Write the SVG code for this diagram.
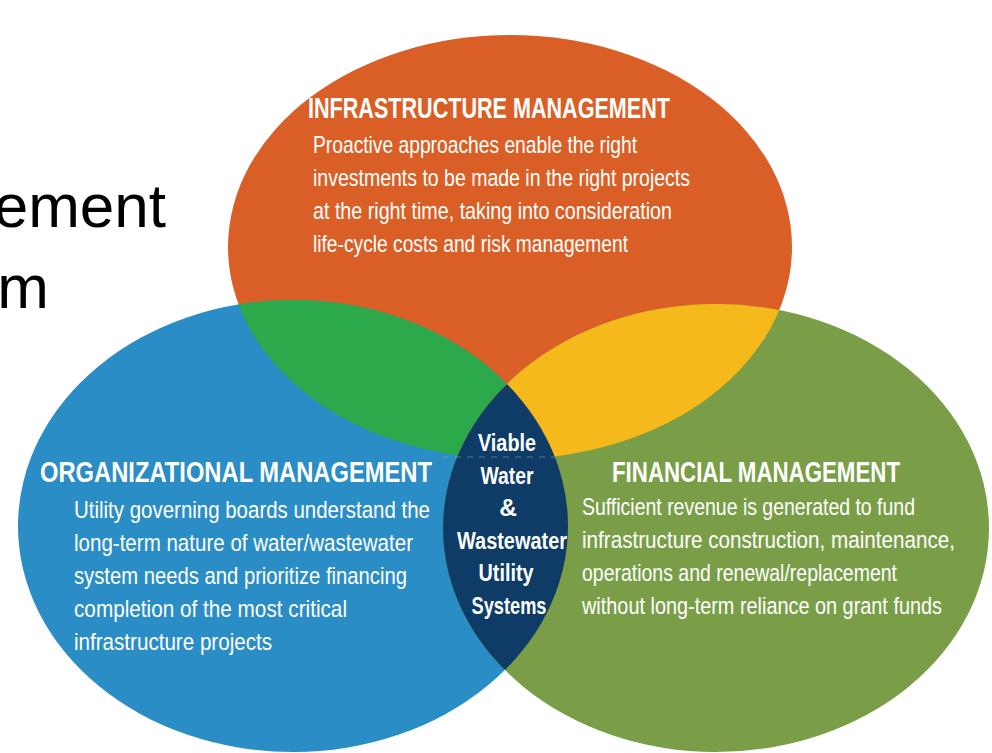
<svg xmlns="http://www.w3.org/2000/svg" width="992" height="753" viewBox="0 0 992 753">
<style>
.big{font-family:"Liberation Sans",Arial,sans-serif;font-size:62px;fill:#000}
.title{font-family:"Liberation Sans",Arial,sans-serif;font-size:29px;font-weight:bold;fill:#fff}
.body{font-family:"Liberation Sans",Arial,sans-serif;font-size:24.5px;fill:#fff}
.ctr{font-family:"Liberation Sans",Arial,sans-serif;font-size:24.5px;font-weight:bold;fill:#fff;text-anchor:middle}
</style>
<defs>
<clipPath id="clipBlue"><ellipse cx="293" cy="526" rx="275" ry="226"/></clipPath>
<clipPath id="clipGreen"><ellipse cx="716" cy="528" rx="273" ry="224"/></clipPath>
</defs>
<rect width="992" height="753" fill="#fff"/>
<g id="slide-text">
<text class="big" x="166" y="227" text-anchor="end">ement</text>
<text class="big" x="49" y="308" text-anchor="end">m</text>
</g>
<g id="infrastructure">
<ellipse cx="510" cy="247" rx="282" ry="212" fill="#DA5F26"/>
</g>
<g id="organizational">
<ellipse cx="293" cy="526" rx="275" ry="226" fill="#2A8DC5"/>
</g>
<g id="financial">
<ellipse cx="716" cy="528" rx="273" ry="224" fill="#7A9E48"/>
</g>
<g id="overlaps">
<ellipse cx="510" cy="247" rx="282" ry="212" fill="#2CA94A" clip-path="url(#clipBlue)"/>
<ellipse cx="510" cy="247" rx="282" ry="212" fill="#F6B91B" clip-path="url(#clipGreen)"/>
<ellipse cx="293" cy="526" rx="275" ry="226" fill="#0E3C66" clip-path="url(#clipGreen)"/>
<line x1="443" y1="457" x2="556" y2="457" stroke="#8aa0b8" stroke-width="1" stroke-dasharray="6 6" opacity="0.6"/>
</g>
<g id="infrastructure-text">
<text class="title" x="308" y="118" textLength="362" lengthAdjust="spacingAndGlyphs">INFRASTRUCTURE MANAGEMENT</text>
<text class="body" x="313" y="153" textLength="324" lengthAdjust="spacingAndGlyphs">Proactive approaches enable the right</text>
<text class="body" x="313" y="186" textLength="377" lengthAdjust="spacingAndGlyphs">investments to be made in the right projects</text>
<text class="body" x="313" y="219" textLength="359" lengthAdjust="spacingAndGlyphs">at the right time, taking into consideration</text>
<text class="body" x="313" y="252" textLength="315" lengthAdjust="spacingAndGlyphs">life-cycle costs and risk management</text>
</g>
<g id="organizational-text">
<text class="title" x="40" y="482" textLength="392" lengthAdjust="spacingAndGlyphs">ORGANIZATIONAL MANAGEMENT</text>
<text class="body" x="74" y="518" textLength="356" lengthAdjust="spacingAndGlyphs">Utility governing boards understand the</text>
<text class="body" x="74" y="551" textLength="339" lengthAdjust="spacingAndGlyphs">long-term nature of water/wastewater</text>
<text class="body" x="74" y="584" textLength="333" lengthAdjust="spacingAndGlyphs">system needs and prioritize financing</text>
<text class="body" x="74" y="617" textLength="273" lengthAdjust="spacingAndGlyphs">completion of the most critical</text>
<text class="body" x="74" y="650" textLength="198" lengthAdjust="spacingAndGlyphs">infrastructure projects</text>
</g>
<g id="financial-text">
<text class="title" x="612" y="482" textLength="288" lengthAdjust="spacingAndGlyphs">FINANCIAL MANAGEMENT</text>
<text class="body" x="582" y="515" textLength="333" lengthAdjust="spacingAndGlyphs">Sufficient revenue is generated to fund</text>
<text class="body" x="582" y="548" textLength="373" lengthAdjust="spacingAndGlyphs">infrastructure construction, maintenance,</text>
<text class="body" x="582" y="581" textLength="315" lengthAdjust="spacingAndGlyphs">operations and renewal/replacement</text>
<text class="body" x="582" y="614" textLength="360" lengthAdjust="spacingAndGlyphs">without long-term reliance on grant funds</text>
</g>
<g id="center">
<text class="ctr" x="507" y="451" textLength="58" lengthAdjust="spacingAndGlyphs">Viable</text>
<text class="ctr" x="507" y="484" textLength="53" lengthAdjust="spacingAndGlyphs">Water</text>
<text class="ctr" x="508" y="516">&amp;</text>
<text class="ctr" x="512" y="549" textLength="110" lengthAdjust="spacingAndGlyphs">Wastewater</text>
<text class="ctr" x="506" y="581" textLength="55" lengthAdjust="spacingAndGlyphs">Utility</text>
<text class="ctr" x="509" y="614" textLength="75" lengthAdjust="spacingAndGlyphs">Systems</text>
</g>
</svg>
